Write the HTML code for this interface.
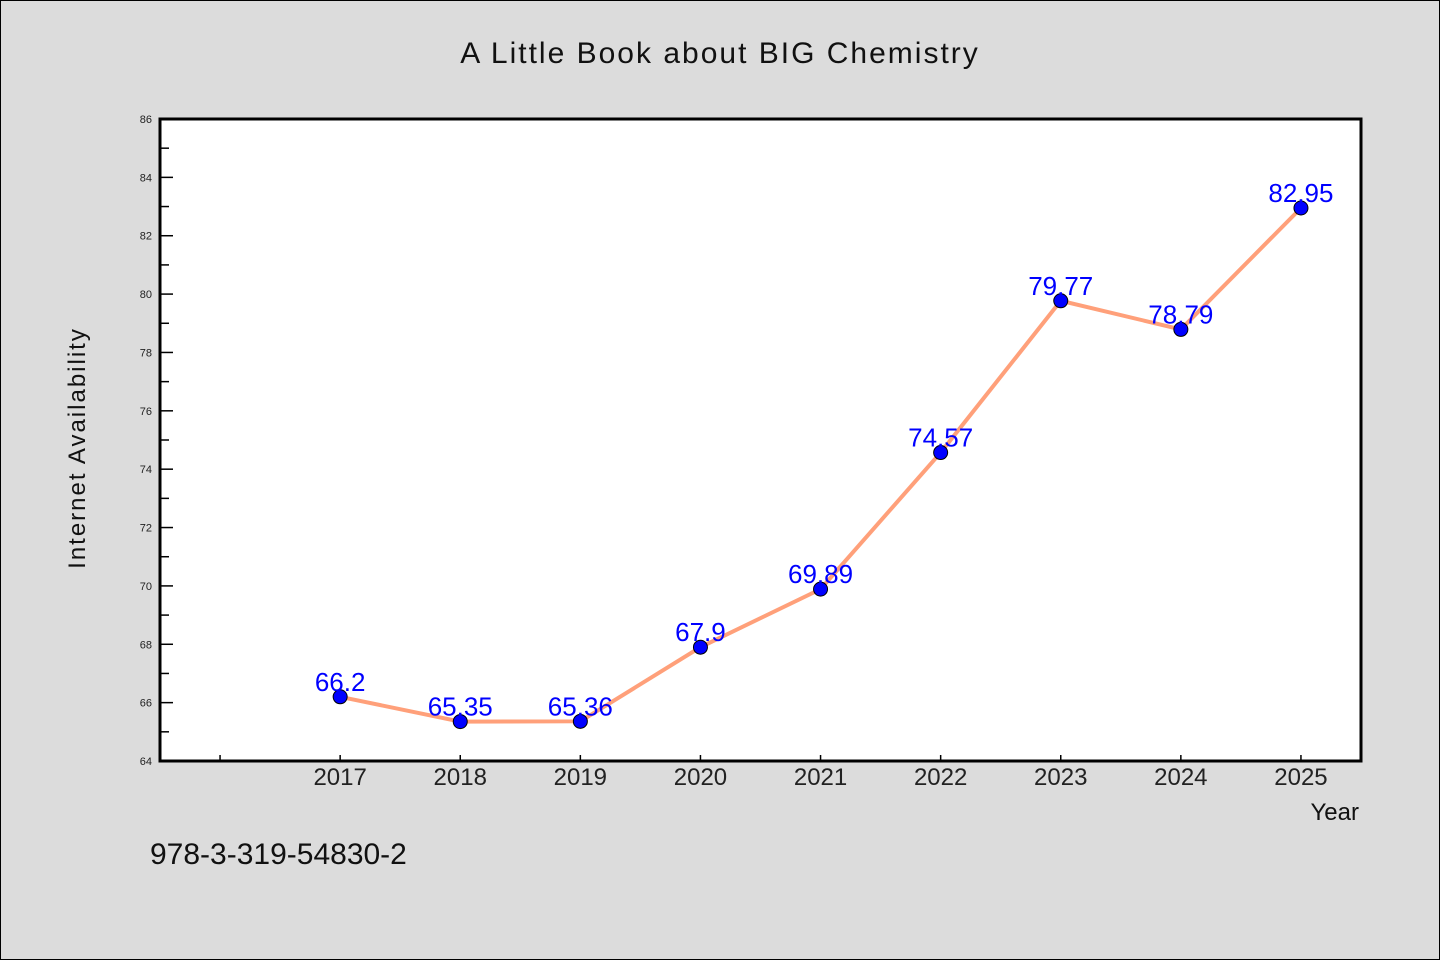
<!DOCTYPE html>
<html><head><meta charset="utf-8"><style>
body{margin:0;background:#dcdcdc;}
svg{display:block;font-family:"WenQuanYi Zen Hei","Liberation Sans",sans-serif;}
</style></head><body>
<svg id="c" width="1440" height="960">
<rect x="0.5" y="0.5" width="1439" height="959" fill="#dcdcdc" stroke="#000"/>
<text x="720" y="63" text-anchor="middle" font-size="30" letter-spacing="2" fill="#111">A Little Book about BIG Chemistry</text>
<rect x="160" y="119" width="1201" height="642" fill="#fff" stroke="#000" stroke-width="3"/>
<g id="yt"></g>
<g id="xt"></g>
<g id="series"></g>
<text transform="translate(85,448) rotate(-90)" text-anchor="middle" font-size="24" letter-spacing="2" fill="#111">Internet Availability</text>
<text x="1359" y="820" text-anchor="end" font-size="24" fill="#111">Year</text>
<text x="150" y="864" font-size="30" fill="#111">978-3-319-54830-2</text>
</svg>
<script>
const categories=[2017,2018,2019,2020,2021,2022,2023,2024,2025];
const values=[66.2,65.35,65.36,67.9,69.89,74.57,79.77,78.79,82.95];
const valueLabels=["66.2","65.35","65.36","67.9","69.89","74.57","79.77","78.79","82.95"];
const yTicks=[64,66,68,70,72,74,76,78,80,82,84,86];
const NS="http://www.w3.org/2000/svg";
const x0=160,x1=1361,y0=761,y1=119,xmin=2015.5,xmax=2025.5,ymin=64,ymax=86;
const X=v=>x0+(v-xmin)/(xmax-xmin)*(x1-x0);
const Y=v=>y0-(v-ymin)/(ymax-ymin)*(y0-y1);
function mk(t,a,p){const e=document.createElementNS(NS,t);for(const k in a)e.setAttribute(k,a[k]);p.appendChild(e);return e;}
const yt=document.getElementById('yt'),xt=document.getElementById('xt'),s=document.getElementById('series');
yTicks.forEach((v,i)=>{
 const l=mk('line',{x1:x0,x2:x0+13,y1:Y(v),y2:Y(v),stroke:'#000','stroke-width':1.5},yt);
 
 
 const t=mk('text',{x:x0-8,y:Y(v)+4,'text-anchor':'end','font-size':11,fill:'#222'},yt);
 t.textContent=v;
 
 
 if(i<yTicks.length-1){const m=mk('line',{x1:x0,x2:x0+9,y1:Y(v+1),y2:Y(v+1),stroke:'#000','stroke-width':1.5},yt);
 
 }
});
[2016].concat(categories).forEach(c=>{
 const l=mk('line',{x1:X(c),x2:X(c),y1:y0,y2:y0-6,stroke:'#000','stroke-width':1.5},xt);
 
 
});
categories.forEach(c=>{
 const t=mk('text',{x:X(c),y:785,'text-anchor':'middle','font-size':24,fill:'#222'},xt);
 t.textContent=c;
 
 
});
const pl=mk('polyline',{points:categories.map((c,i)=>X(c)+','+Y(values[i])).join(' '),fill:'none',stroke:'#ffa07a','stroke-width':4},s);


categories.forEach((c,i)=>{
 const p=mk('circle',{cx:X(c),cy:Y(values[i]),r:7,fill:'#0000ff',stroke:'#000','stroke-width':1},s);
 
 
 const t=mk('text',{x:X(c),y:Y(values[i])-6,'text-anchor':'middle','font-size':26,fill:'#0000ff'},s);
 t.textContent=valueLabels[i];
 
 
});
</script>
</body></html>
